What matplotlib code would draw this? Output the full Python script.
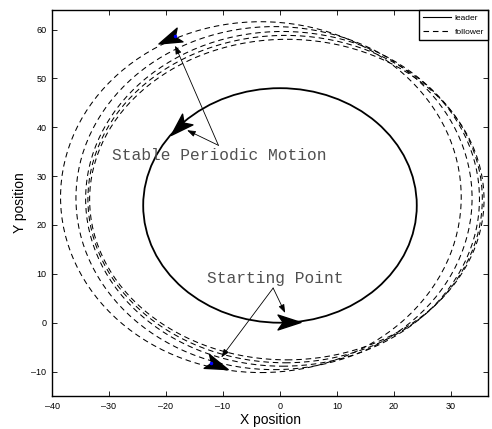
import matplotlib
matplotlib.use("Agg")
import matplotlib.pyplot as plt
from matplotlib.patches import Ellipse
from matplotlib.lines import Line2D
from matplotlib.markers import MarkerStyle
from matplotlib.path import Path

plt.rcParams["font.family"] = ["Liberation Sans", "DejaVu Sans"]
plt.rcParams["lines.scale_dashes"] = False

# leader orbit (extents)
leader_left, leader_right = -24.0, 24.0
leader_bottom, leader_top = 0.0, 48.0

# follower loops: left, right, bottom, top extents of each lap
loop_left = [-38.5, -35.8, -34.1, -33.7, -33.4]
loop_right = [31.8, 33.7, 35.0, 35.5, 35.8]
loop_bottom = [-10.2, -9.6, -8.9, -8.2, -7.6]
loop_top = [61.6, 60.6, 59.6, 58.8, 58.0]

# arrowheads: x, y, direction (deg)
head_x = [1.5, -17.8, -11.1, -19.5]
head_y = [0.2, 40.0, -8.6, 58.1]
head_ang = [0, 224, -21, 203]

# follower start / end points
dot_x = [-12.1, -18.5]
dot_y = [-8.2, 58.6]

# annotations
stable_text = (-29.4, 34.3)
stable_from = (-10.8, 36.3)
stable_to = [(-18.4, 56.7), (-16.3, 39.4)]
start_text = (-12.8, 9.0)
start_from = (-1.2, 7.1)
start_to = [(0.9, 2.0), (-10.3, -7.1)]

xticks = [-40, -30, -20, -10, 0, 10, 20, 30]
yticks = [-10, 0, 10, 20, 30, 40, 50, 60]

fig = plt.figure(figsize=(4.92, 4.29), dpi=100)
ax = fig.add_axes([0.1057, 0.0769, 0.8862, 0.8998])

# leader
ax.add_patch(Ellipse(((leader_left + leader_right) / 2, (leader_bottom + leader_top) / 2),
                     leader_right - leader_left, leader_top - leader_bottom,
                     fill=False, color="black", lw=1.3))

# follower laps
for l, r, b, t in zip(loop_left, loop_right, loop_bottom, loop_top):
    ax.add_patch(Ellipse(((l + r) / 2, (b + t) / 2), r - l, t - b,
                         fill=False, color="black", lw=0.75,
                         linestyle=(0, (4.0, 2.8))))

# arrowheads
head = Path([(1, 0), (-1, 0.65), (-0.55, 0), (-1, -0.65), (1, 0)],
            [Path.MOVETO, Path.LINETO, Path.LINETO, Path.LINETO, Path.CLOSEPOLY])
for x, y, a in zip(head_x, head_y, head_ang):
    m = MarkerStyle(head).rotated(deg=a)
    ax.plot(x, y, marker=m, markersize=16.5, color="black", linestyle="none")

ax.plot(dot_x, dot_y, "o", color="blue", markersize=1.5, linestyle="none")

# annotations
mono = ["Liberation Mono", "DejaVu Sans Mono"]
ax.text(stable_text[0], stable_text[1], "Stable Periodic Motion", family=mono,
        fontsize=11.7, color="#505050", va="center", ha="left")
ax.text(start_text[0], start_text[1], "Starting Point", family=mono,
        fontsize=11.7, color="#505050", va="center", ha="left")
arrow = dict(arrowstyle="-|>,head_length=0.5,head_width=0.18", color="black",
             lw=0.6, shrinkA=0, shrinkB=0)
for p in stable_to:
    ax.annotate("", xy=p, xytext=stable_from, arrowprops=arrow)
for p in start_to:
    ax.annotate("", xy=p, xytext=start_from, arrowprops=arrow)

ax.set_xlim(-40, 36.5)
ax.set_ylim(-15, 64)
ax.set_xticks(xticks)
ax.set_yticks(yticks)
ax.set_xticklabels([str(v).replace("-", "\u2013") for v in xticks])
ax.set_yticklabels([str(v).replace("-", "\u2013") for v in yticks])
ax.tick_params(direction="in", length=3.5, width=0.6, top=True, right=True,
               labelsize=6.5, pad=4)
for s in ax.spines.values():
    s.set_linewidth(1.0)
ax.set_xlabel("X position", fontsize=10, labelpad=2)
ax.set_ylabel("Y position", fontsize=10, labelpad=3)

handles = [Line2D([], [], color="black", lw=0.8),
           Line2D([], [], color="black", lw=0.8, linestyle=(0, (4.0, 2.8)))]
leg = ax.legend(handles, ["leader", "follower"], loc="upper right", fontsize=6,
                borderaxespad=0, fancybox=False, edgecolor="black", framealpha=1,
                handlelength=3.4, handletextpad=0.4, borderpad=0.5, labelspacing=0.7)
leg.get_frame().set_linewidth(1.0)

fig.savefig("out.png", dpi=100)
